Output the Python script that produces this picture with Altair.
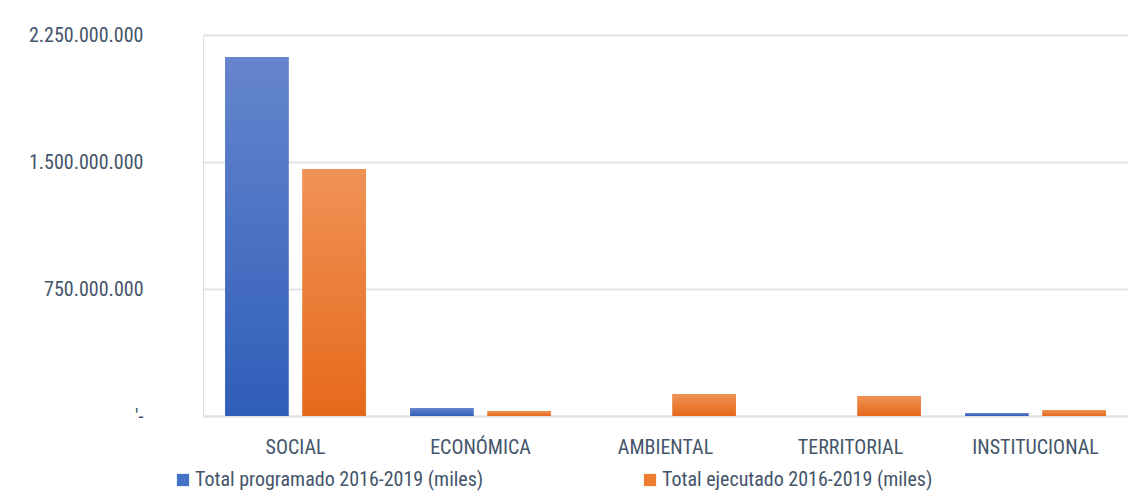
import altair as alt
import pandas as pd

categories = ["SOCIAL", "ECONÓMICA", "AMBIENTAL", "TERRITORIAL", "INSTITUCIONAL"]
series = ["Total programado 2016-2019 (miles)", "Total ejecutado 2016-2019 (miles)"]
programado = [2120000000, 47000000, 0, 0, 18000000]
ejecutado = [1459000000, 30000000, 130000000, 118000000, 35000000]

rows = []
for c, p, e in zip(categories, programado, ejecutado):
    rows.append({"cat": c, "serie": series[0], "valor": p})
    rows.append({"cat": c, "serie": series[1], "valor": e})
df = pd.DataFrame(rows)

FONT = "Liberation Sans Narrow, Roboto Condensed, DejaVu Sans Condensed, sans-serif"
TXT = "#44546a"
GRID = "#dfe3ea"

blue_grad = alt.LinearGradient(gradient="linear", x1=0, y1=0, x2=0, y2=1,
                               stops=[alt.GradientStop(color="#6685cd", offset=0),
                                      alt.GradientStop(color="#2f5eb9", offset=1)])
orange_grad = alt.LinearGradient(gradient="linear", x1=0, y1=0, x2=0, y2=1,
                                 stops=[alt.GradientStop(color="#f09256", offset=0),
                                        alt.GradientStop(color="#e6691b", offset=1)])

x_enc = alt.X("cat:N", sort=categories,
              scale=alt.Scale(paddingInner=0.24, paddingOuter=0.12),
              axis=alt.Axis(title=None, labelAngle=0, labelFont=FONT, labelFontSize=20,
                            labelColor=TXT, labelPadding=21, ticks=False, domain=True,
                            domainColor=GRID, domainWidth=2, grid=False))
xo_enc = alt.XOffset("serie:N", sort=series, scale=alt.Scale(paddingInner=0.18, paddingOuter=0))
y_enc = alt.Y("valor:Q", scale=alt.Scale(domain=[0, 2250000000], nice=False),
              axis=alt.Axis(title=None, values=[0, 750000000, 1500000000, 2250000000],
                            labelExpr="datum.value == 0 ? \"'-\" : replace(format(datum.value, ','), /,/g, '.')",
                            labelFont=FONT, labelFontSize=20, labelColor=TXT, labelPadding=60,
                            ticks=False, domain=False, gridColor=GRID, gridWidth=2))

base = alt.Chart(df).mark_bar().encode(
    x=x_enc, xOffset=xo_enc, y=y_enc,
    color=alt.Color("serie:N", sort=series,
                    scale=alt.Scale(domain=series, range=["#4472c4", "#ed7d31"]),
                    legend=alt.Legend(title=None, orient="none", legendX=-30, legendY=435,
                                      direction="horizontal", symbolType="square", symbolSize=150,
                                      labelFont=FONT, labelFontSize=20, labelColor=TXT,
                                      labelLimit=0, columnPadding=156, symbolStrokeWidth=0,
                                      labelOffset=2)),
)

blue = alt.Chart(df).transform_filter(alt.datum.serie == series[0]).mark_bar(color=blue_grad).encode(
    x=x_enc, xOffset=xo_enc, y=y_enc)
orange = alt.Chart(df).transform_filter(alt.datum.serie == series[1]).mark_bar(color=orange_grad).encode(
    x=x_enc, xOffset=xo_enc, y=y_enc)

chart = alt.layer(base, blue, orange).properties(
    width=925, height=381,
    autosize=alt.AutoSizeParams(type="none"),
    padding={"left": 195, "top": 27, "right": 0, "bottom": 77},
).configure_view(stroke=None).configure(background="white")

chart.save("out.html", embed_options={"renderer": "svg", "actions": False})
